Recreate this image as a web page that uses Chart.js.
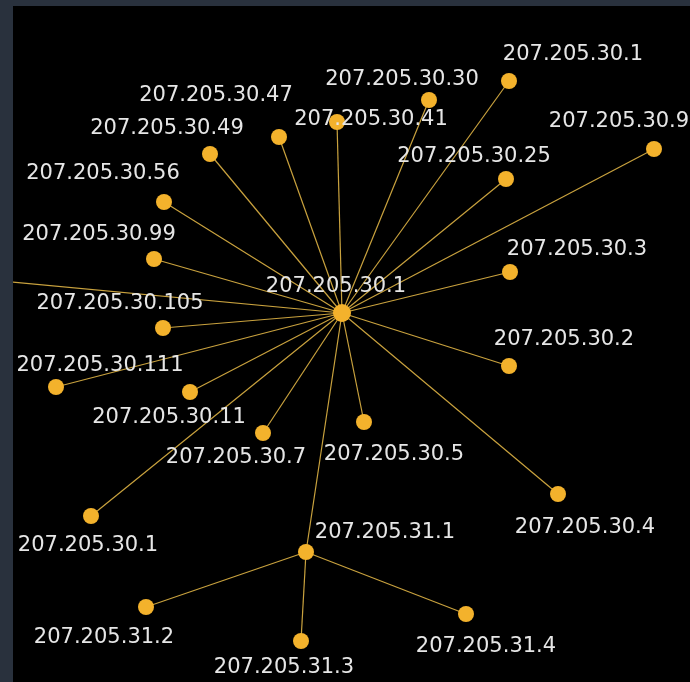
<!DOCTYPE html>
<html>
<head>
<meta charset="utf-8">
<script src="https://cdn.jsdelivr.net/npm/chart.js@4"></script>
<style>
  html, body { margin: 0; padding: 0; background: #29313d; }
  #wrap { position: absolute; left: 13px; top: 6px; width: 677px; height: 676px; background: #000; }
</style>
</head>
<body>
<div id="wrap"><canvas id="net"></canvas></div>
<script>
// node names (hub first), layout coordinates
const nodeNames = ["207.205.30.1", "207.205.30.1", "207.205.30.30", "207.205.30.41", "207.205.30.47",
  "207.205.30.49", "207.205.30.56", "207.205.30.99", "", "207.205.30.105", "207.205.30.111",
  "207.205.30.11", "207.205.30.7", "207.205.30.5", "207.205.30.1", "207.205.31.1", "207.205.31.2",
  "207.205.31.3", "207.205.31.4", "207.205.30.4", "207.205.30.2", "207.205.30.3", "207.205.30.25",
  "207.205.30.9"];
const nodeX = [342, 509, 429, 337, 279, 210, 164, 154, -20, 163, 56, 190, 263, 364, 91, 306, 146, 301, 466, 558, 509, 510, 506, 654];
const nodeY = [313, 81, 100, 122, 137, 154, 202, 259, 279, 328, 387, 392, 433, 422, 516, 552, 607, 641, 614, 494, 366, 272, 179, 149];
// edges as [from, to] indexes into the node arrays
const edges = [[0,1],[0,2],[0,3],[0,4],[0,5],[0,6],[0,7],[0,8],[0,9],[0,10],[0,11],[0,12],[0,13],
  [0,14],[0,15],[0,19],[0,20],[0,21],[0,22],[0,23],[15,16],[15,17],[15,18]];

// label offsets from node (layout only)
const labelOffset = [[-6,-28],[64,-28],[-27,-22],[34,-4],[-63,-43],[-43,-27],[-61,-30],[-55,-26],[0,0],
  [-43,-26],[44,-23],[-21,24],[-27,23],[30,31],[-3,28],[79,-21],[-42,29],[-17,25],[20,31],[27,32],
  [55,-28],[67,-24],[-32,-24],[-35,-29]];

const nodeColor = "#f3b22c";
const edgeColor = "#c9a23e";

const edgeSets = edges.map(e => ({
  type: "line",
  data: e.map(i => ({ x: nodeX[i], y: nodeY[i] })),
  borderColor: edgeColor,
  borderWidth: 1.2,
  pointRadius: 0,
  showLine: true,
  fill: false,
  order: 2
}));

const nodeSet = {
  type: "scatter",
  data: nodeX.map((x, i) => ({ x: x, y: nodeY[i] })),
  backgroundColor: nodeColor,
  borderWidth: 0,
  pointRadius: nodeX.map((x, i) => i === 0 ? 9 : 8),
  order: 1
};

const labelPlugin = {
  id: "nodeLabels",
  afterDatasetsDraw(chart) {
    const ctx = chart.ctx;
    const meta = chart.getDatasetMeta(chart.data.datasets.length - 1);
    ctx.save();
    ctx.font = "21px 'DejaVu Sans'";
    ctx.fillStyle = "#e6e6e6";
    ctx.textAlign = "center";
    ctx.textBaseline = "middle";
    meta.data.forEach((pt, i) => {
      if (!nodeNames[i]) return;
      ctx.fillText(nodeNames[i], pt.x + labelOffset[i][0], pt.y + labelOffset[i][1] + 2);
    });
    ctx.restore();
  }
};

new Chart(document.getElementById("net"), {
  data: { datasets: [...edgeSets, nodeSet] },
  options: {
    responsive: true,
    maintainAspectRatio: false,
    animation: false,
    layout: { padding: 0, autoPadding: false },
    plugins: { legend: { display: false }, tooltip: { enabled: false } },
    scales: {
      x: { type: "linear", min: 13, max: 690, display: false },
      y: { type: "linear", min: 6, max: 682, reverse: true, display: false }
    }
  },
  plugins: [labelPlugin]
});
</script>
</body>
</html>
